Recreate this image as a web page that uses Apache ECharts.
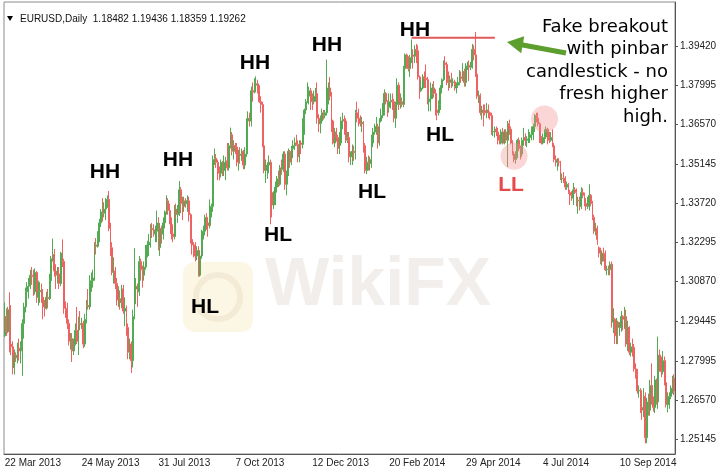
<!DOCTYPE html>
<html>
<head>
<meta charset="utf-8">
<script src="https://cdn.jsdelivr.net/npm/echarts@6/dist/echarts.min.js"></script>
<style>
html,body{margin:0;padding:0;background:#fff;}
#chart{width:722px;height:474px;}
</style>
</head>
<body>
<div id="chart"></div>
<script>
// ---- DATA ----
const symbolTitle = 'EURUSD,Daily';
const lastQuote = ['1.18482', '1.19436', '1.18359', '1.19262'];
const dateLabels = ['22 Mar 2013','24 May 2013','31 Jul 2013','7 Oct 2013','12 Dec 2013','20 Feb 2014','29 Apr 2014','4 Jul 2014','10 Sep 2014'];
const labelEvery = 48;
const yTicks = [1.25145,1.26570,1.27995,1.29445,1.30870,1.32295,1.33720,1.35145,1.36570,1.37995,1.39420];
// daily bars: [open, close, low, high]
const bars2013a = [
[1.2890,1.2960,1.2885,1.3011],[1.2960,1.2905,1.2890,1.2990],[1.2905,1.2985,1.2900,1.2995],[1.3000,1.2860,1.2830,1.3048],
[1.2860,1.2850,1.2820,1.2900],[1.2850,1.2775,1.2750,1.2870],[1.2775,1.2820,1.2750,1.2840],[1.2820,1.2810,1.2795,1.2830],
[1.2810,1.2845,1.2790,1.2865],[1.2845,1.2835,1.2800,1.2880],[1.2835,1.2850,1.2790,1.2870],[1.2850,1.2935,1.2745,1.2950],
[1.2935,1.2995,1.2880,1.3010],[1.2995,1.3050,1.2975,1.3065],[1.3050,1.3070,1.3020,1.3085],[1.3070,1.3075,1.3025,1.3100],
[1.3075,1.3110,1.3060,1.3130],[1.3110,1.3105,1.3075,1.3140],[1.3105,1.3050,1.3035,1.3130],[1.3050,1.3120,1.3040,1.3135],
[1.3120,1.3030,1.3010,1.3125],[1.3030,1.3050,1.3000,1.3090],[1.3050,1.3055,1.3010,1.3085],[1.3055,1.3030,1.3010,1.3080],
[1.3030,1.2995,1.2950,1.3060],[1.2995,1.2990,1.2960,1.3020],[1.2990,1.3030,1.2985,1.3050],[1.3030,1.3025,1.2990,1.3060],
[1.3025,1.3090,1.3020,1.3115],[1.3090,1.3170,1.3075,1.3180],[1.3170,1.3185,1.3160,1.3243],[1.3185,1.3125,1.3105,1.3205],
[1.3125,1.3110,1.3060,1.3150],[1.3110,1.3115,1.3080,1.3140],[1.3115,1.3080,1.3060,1.3140],[1.3080,1.3190,1.3070,1.3195],
[1.3190,1.3160,1.3140,1.3240],[1.3160,1.2990,1.2970,1.3170],[1.2990,1.2985,1.2955,1.3015],[1.2985,1.2935,1.2915,1.3010],
[1.2935,1.2870,1.2855,1.2950],[1.2870,1.2880,1.2840,1.2900],[1.2880,1.2835,1.2795,1.2900],[1.2835,1.2860,1.2820,1.2880],
[1.2860,1.2910,1.2855,1.2935],[1.2910,1.2870,1.2860,1.2995],[1.2870,1.2935,1.2820,1.2960],[1.2935,1.2930,1.2910,1.2980],
[1.2930,1.2935,1.2915,1.2955],[1.2935,1.2860,1.2845,1.2945],[1.2860,1.2950,1.2850,1.2970],[1.2950,1.3000,1.2935,1.3020],
[1.3000,1.2995,1.2985,1.3060],[1.2995,1.3080,1.2985,1.3110],[1.3080,1.3090,1.3050,1.3120],[1.3090,1.3100,1.3065,1.3130],
[1.3100,1.3220,1.3090,1.3230],[1.3220,1.3215,1.3185,1.3245],[1.3215,1.3260,1.3210,1.3270],[1.3260,1.3300,1.3230,1.3315],
[1.3300,1.3340,1.3285,1.3350],[1.3340,1.3335,1.3305,1.3390],[1.3335,1.3350,1.3320,1.3375],[1.3350,1.3370,1.3310,1.3390],
[1.3370,1.3385,1.3355,1.3400],[1.3385,1.3280,1.3270,1.3416],[1.3280,1.3210,1.3180,1.3300],[1.3210,1.3120,1.3110,1.3230],
[1.3120,1.3125,1.3080,1.3175],[1.3125,1.3080,1.3060,1.3140],[1.3080,1.3020,1.3000,1.3100],[1.3020,1.3025,1.2995,1.3070],
[1.3025,1.3010,1.2985,1.3055],[1.3010,1.3060,1.2990,1.3075],[1.3060,1.2980,1.2970,1.3075],[1.2980,1.2990,1.2925,1.3030],
[1.2990,1.2920,1.2890,1.3000],[1.2920,1.2830,1.2805,1.2935],[1.2830,1.2860,1.2805,1.2880],[1.2860,1.2800,1.2755,1.2870],
[1.2800,1.2960,1.2775,1.2985],[1.2960,1.3060,1.2950,1.3208],[1.3060,1.3070,1.3005,1.3100],[1.3070,1.3050,1.2995,1.3080],
[1.3050,1.3160,1.3035,1.3180],[1.3160,1.3130,1.3090,1.3170],[1.3130,1.3110,1.3065,1.3145],[1.3110,1.3140,1.3090,1.3160],
[1.3140,1.3200,1.3130,1.3220],[1.3200,1.3220,1.3175,1.3235],[1.3220,1.3230,1.3180,1.3260],[1.3230,1.3280,1.3210,1.3295],
[1.3280,1.3275,1.3245,1.3300],[1.3275,1.3260,1.3250,1.3295],[1.3260,1.3270,1.3230,1.3290],[1.3270,1.3300,1.3230,1.3345],
[1.3300,1.3210,1.3200,1.3320],[1.3210,1.3280,1.3180,1.3300],[1.3280,1.3260,1.3225,1.3290],[1.3260,1.3300,1.3240,1.3320],
[1.3300,1.3340,1.3280,1.3345],[1.3340,1.3380,1.3330,1.3400],[1.3380,1.3345,1.3330,1.3390],[1.3345,1.3310,1.3295,1.3370],
[1.3310,1.3260,1.3240,1.3320],[1.3260,1.3250,1.3230,1.3295],[1.3250,1.3350,1.3240,1.3365],[1.3350,1.3330,1.3315,1.3370],
[1.3330,1.3335,1.3300,1.3365],[1.3335,1.3420,1.3325,1.3452],[1.3420,1.3370,1.3335,1.3430],[1.3370,1.3360,1.3310,1.3395],
[1.3360,1.3380,1.3340,1.3395],[1.3380,1.3370,1.3355,1.3390],[1.3370,1.3380,1.3340,1.3400],[1.3380,1.3330,1.3305,1.3395],
[1.3330,1.3240,1.3225,1.3335],[1.3240,1.3220,1.3185,1.3260],[1.3220,1.3190,1.3175,1.3230],[1.3190,1.3180,1.3160,1.3230],
[1.3180,1.3200,1.3165,1.3215],[1.3200,1.3110,1.3105,1.3215],[1.3110,1.3180,1.3105,1.3200],[1.3180,1.3260,1.3170,1.3275],
[1.3260,1.3270,1.3240,1.3290],[1.3270,1.3320,1.3255,1.3330],[1.3320,1.3300,1.3275,1.3335],[1.3300,1.3290,1.3250,1.3310],
[1.3290,1.3340,1.3280,1.3385],[1.3340,1.3360,1.3320,1.3370],[1.3360,1.3530,1.3340,1.3545],[1.3530,1.3535,1.3510,1.3570],
[1.3535,1.3520,1.3500,1.3550],[1.3520,1.3490,1.3455,1.3530],[1.3490,1.3480,1.3455,1.3505],[1.3480,1.3520,1.3465,1.3530],
[1.3520,1.3490,1.3470,1.3525],[1.3490,1.3520,1.3470,1.3545],[1.3520,1.3525,1.3455,1.3540],[1.3525,1.3500,1.3490,1.3590],
[1.3500,1.3580,1.3490,1.3590],[1.3580,1.3620,1.3570,1.3646],[1.3620,1.3560,1.3545,1.3630],[1.3560,1.3580,1.3530,1.3600],
[1.3580,1.3575,1.3550,1.3590],[1.3575,1.3520,1.3505,1.3590],[1.3520,1.3550,1.3490,1.3565],[1.3550,1.3545,1.3515,1.3575],
[1.3545,1.3560,1.3525,1.3570],[1.3560,1.3510,1.3495,1.3565],[1.3510,1.3550,1.3495,1.3575],[1.3550,1.3670,1.3540,1.3680],
[1.3670,1.3680,1.3650,1.3705],[1.3680,1.3670,1.3650,1.3700],[1.3670,1.3780,1.3650,1.3795],[1.3780,1.3775,1.3740,1.3810],
[1.3775,1.3800,1.3770,1.3825],[1.3800,1.3805,1.3775,1.3832],[1.3805,1.3780,1.3770,1.3820],[1.3780,1.3740,1.3735,1.3800],
[1.3740,1.3730,1.3700,1.3760],[1.3730,1.3580,1.3575,1.3740],[1.3580,1.3490,1.3480,1.3590],[1.3490,1.3500,1.3445,1.3530],
[1.3500,1.3510,1.3460,1.3520],[1.3510,1.3520,1.3480,1.3545],[1.3520,1.3410,1.3295,1.3530],[1.3410,1.3365,1.3320,1.3435],
[1.3365,1.3380,1.3350,1.3415],[1.3380,1.3430,1.3365,1.3450],[1.3430,1.3460,1.3410,1.3470],[1.3460,1.3440,1.3430,1.3490],
[1.3440,1.3500,1.3435,1.3510],[1.3500,1.3495,1.3475,1.3530],[1.3495,1.3550,1.3485,1.3560],[1.3550,1.3440,1.3420,1.3560],
[1.3440,1.3480,1.3400,1.3490],[1.3480,1.3560,1.3470,1.3570],[1.3560,1.3520,1.3500,1.3565],[1.3520,1.3570,1.3510,1.3580],
[1.3570,1.3580,1.3535,1.3600],[1.3580,1.3590,1.3565,1.3610],[1.3590,1.3585,1.3580,1.3620],[1.3585,1.3540,1.3520,1.3600],
[1.3540,1.3590,1.3520,1.3600],[1.3590,1.3585,1.3550,1.3600],[1.3585,1.3660,1.3570,1.3680],[1.3660,1.3710,1.3620,1.3715],
[1.3710,1.3740,1.3695,1.3750],[1.3740,1.3760,1.3735,1.3810],[1.3760,1.3780,1.3730,1.3795],[1.3780,1.3760,1.3710,1.3790],
[1.3760,1.3740,1.3710,1.3770],[1.3740,1.3760,1.3730,1.3780],[1.3760,1.3770,1.3740,1.3790],[1.3770,1.3680,1.3660,1.3810],
[1.3680,1.3660,1.3630,1.3695],[1.3660,1.3670,1.3625,1.3690],[1.3670,1.3700,1.3660,1.3715],[1.3700,1.3690,1.3675,1.3710],
[1.3690,1.3700,1.3680,1.3710],[1.3700,1.3750,1.3690,1.3893],[1.3750,1.3790,1.3730,1.3810],[1.3790,1.3760,1.3745,1.3830]
];
const bars2014 = [
[1.3760,1.3670,1.3630,1.3775],[1.3670,1.3590,1.3585,1.3675],[1.3590,1.3630,1.3575,1.3645],[1.3630,1.3610,1.3595,1.3645],
[1.3610,1.3570,1.3550,1.3620],[1.3570,1.3590,1.3550,1.3630],[1.3590,1.3670,1.3580,1.3685],[1.3670,1.3675,1.3640,1.3700],
[1.3675,1.3670,1.3620,1.3690],[1.3670,1.3600,1.3590,1.3680],[1.3600,1.3610,1.3590,1.3630],[1.3610,1.3540,1.3520,1.3630],
[1.3540,1.3550,1.3510,1.3560],[1.3550,1.3560,1.3510,1.3585],[1.3560,1.3555,1.3525,1.3580],[1.3555,1.3700,1.3530,1.3710],
[1.3700,1.3680,1.3665,1.3740],[1.3680,1.3670,1.3650,1.3715],[1.3670,1.3660,1.3650,1.3690],[1.3660,1.3665,1.3630,1.3685],
[1.3665,1.3580,1.3555,1.3670],[1.3580,1.3490,1.3480,1.3590],[1.3490,1.3520,1.3477,1.3540],[1.3520,1.3515,1.3490,1.3545],
[1.3515,1.3530,1.3490,1.3540],[1.3530,1.3590,1.3500,1.3620],[1.3590,1.3630,1.3575,1.3645],[1.3630,1.3640,1.3620,1.3660],
[1.3640,1.3650,1.3620,1.3685],[1.3650,1.3590,1.3570,1.3660],[1.3590,1.3670,1.3580,1.3680],[1.3670,1.3690,1.3665,1.3715],
[1.3690,1.3700,1.3680,1.3735],[1.3700,1.3770,1.3690,1.3785],[1.3770,1.3740,1.3730,1.3775],[1.3740,1.3720,1.3685,1.3745],
[1.3720,1.3740,1.3700,1.3770],[1.3740,1.3745,1.3715,1.3770],[1.3745,1.3740,1.3710,1.3770],[1.3740,1.3680,1.3665,1.3750],
[1.3680,1.3730,1.3645,1.3740],[1.3730,1.3800,1.3710,1.3825],[1.3800,1.3730,1.3710,1.3810],[1.3730,1.3740,1.3715,1.3770],
[1.3740,1.3730,1.3720,1.3755],[1.3730,1.3860,1.3720,1.3870],[1.3860,1.3910,1.3850,1.3915],[1.3910,1.3880,1.3860,1.3915],
[1.3880,1.3860,1.3850,1.3905],[1.3860,1.3900,1.3830,1.3910],[1.3900,1.3910,1.3880,1.3966],[1.3910,1.3905,1.3860,1.3930],
[1.3905,1.3930,1.3880,1.3945],[1.3930,1.3925,1.3880,1.3950],[1.3925,1.3830,1.3820,1.3945],[1.3830,1.3780,1.3750,1.3835],
[1.3780,1.3790,1.3775,1.3815],[1.3790,1.3830,1.3785,1.3840],[1.3830,1.3825,1.3790,1.3850],[1.3825,1.3820,1.3790,1.3875],
[1.3820,1.3740,1.3730,1.3830],[1.3740,1.3750,1.3705,1.3765],[1.3750,1.3770,1.3705,1.3810],[1.3770,1.3790,1.3750,1.3805],
[1.3790,1.3770,1.3755,1.3815],[1.3770,1.3710,1.3690,1.3785],[1.3710,1.3700,1.3673,1.3735],[1.3700,1.3730,1.3690,1.3745],
[1.3730,1.3790,1.3710,1.3800],[1.3790,1.3820,1.3770,1.3825],[1.3820,1.3880,1.3815,1.3890],[1.3880,1.3875,1.3855,1.3905],
[1.3875,1.3820,1.3800,1.3885],[1.3820,1.3810,1.3780,1.3850],[1.3810,1.3820,1.3790,1.3835],[1.3820,1.3810,1.3790,1.3845],
[1.3810,1.3812,1.3795,1.3825],[1.3812,1.3790,1.3780,1.3820],[1.3790,1.3800,1.3770,1.3810],[1.3800,1.3810,1.3790,1.3830],
[1.3810,1.3830,1.3800,1.3855],[1.3830,1.3825,1.3810,1.3850],[1.3825,1.3850,1.3815,1.3880],[1.3850,1.3810,1.3795,1.3860],
[1.3810,1.3870,1.3795,1.3880],[1.3870,1.3872,1.3855,1.3885],[1.3872,1.3865,1.3815,1.3890],[1.3865,1.3870,1.3855,1.3885],
[1.3870,1.3930,1.3860,1.3950],[1.3930,1.3910,1.3890,1.3945],[1.3910,1.3840,1.3830,1.3993],[1.3840,1.3760,1.3750,1.3845],
[1.3760,1.3762,1.3735,1.3780],[1.3762,1.3700,1.3690,1.3770],[1.3700,1.3710,1.3675,1.3725],[1.3710,1.3708,1.3650,1.3730],
[1.3708,1.3700,1.3690,1.3730],[1.3700,1.3710,1.3680,1.3735],[1.3710,1.3700,1.3680,1.3730],[1.3700,1.3690,1.3675,1.3705],
[1.3690,1.3630,1.3620,1.3700],[1.3630,1.3632,1.3615,1.3650],[1.3632,1.3640,1.3610,1.3650],[1.3640,1.3630,1.3615,1.3650],
[1.3630,1.3600,1.3585,1.3645],[1.3600,1.3590,1.3585,1.3620],[1.3590,1.3630,1.3585,1.3640],[1.3630,1.3590,1.3585,1.3645],
[1.3590,1.3630,1.3585,1.3640],[1.3630,1.3600,1.3590,1.3640],[1.3600,1.3660,1.3503,1.3670],[1.3660,1.3640,1.3620,1.3675],
[1.3640,1.3590,1.3585,1.3650],[1.3590,1.3550,1.3545,1.3600],[1.3550,1.3530,1.3520,1.3560],[1.3530,1.3540,1.3515,1.3560],
[1.3540,1.3600,1.3535,1.3605],[1.3600,1.3570,1.3560,1.3610],[1.3570,1.3550,1.3530,1.3580],[1.3550,1.3600,1.3540,1.3610],
[1.3600,1.3610,1.3580,1.3645],[1.3610,1.3600,1.3580,1.3625],[1.3600,1.3605,1.3575,1.3615],[1.3605,1.3610,1.3590,1.3640],
[1.3610,1.3620,1.3590,1.3630],[1.3620,1.3630,1.3600,1.3650],[1.3630,1.3650,1.3600,1.3660],[1.3650,1.3690,1.3630,1.3695],
[1.3690,1.3680,1.3665,1.3700],[1.3680,1.3660,1.3650,1.3700],[1.3660,1.3610,1.3590,1.3665],[1.3610,1.3590,1.3585,1.3615],
[1.3590,1.3610,1.3585,1.3625],[1.3610,1.3612,1.3590,1.3640],[1.3612,1.3640,1.3605,1.3650],[1.3640,1.3610,1.3585,1.3645],
[1.3610,1.3600,1.3590,1.3630],[1.3600,1.3610,1.3595,1.3630],[1.3610,1.3580,1.3575,1.3640],[1.3580,1.3530,1.3520,1.3590],
[1.3530,1.3520,1.3505,1.3545],[1.3520,1.3522,1.3490,1.3535],[1.3522,1.3520,1.3505,1.3535],[1.3520,1.3460,1.3455,1.3525],
[1.3460,1.3462,1.3445,1.3480],[1.3462,1.3460,1.3445,1.3485],[1.3460,1.3430,1.3420,1.3470],[1.3430,1.3440,1.3420,1.3450],
[1.3440,1.3410,1.3405,1.3445],[1.3410,1.3400,1.3365,1.3420],[1.3400,1.3390,1.3380,1.3415],[1.3390,1.3420,1.3365,1.3445],
[1.3420,1.3410,1.3405,1.3430],[1.3410,1.3380,1.3360,1.3425],[1.3380,1.3382,1.3333,1.3395],[1.3382,1.3360,1.3345,1.3395],
[1.3360,1.3410,1.3350,1.3430],[1.3410,1.3400,1.3390,1.3425],[1.3400,1.3370,1.3360,1.3410],[1.3370,1.3360,1.3345,1.3390],
[1.3360,1.3362,1.3350,1.3395],[1.3362,1.3400,1.3345,1.3440],[1.3400,1.3370,1.3360,1.3405],[1.3370,1.3320,1.3310,1.3380],
[1.3320,1.3270,1.3260,1.3330],[1.3270,1.3280,1.3255,1.3300],[1.3280,1.3240,1.3220,1.3290],[1.3210,1.3190,1.3175,1.3215],
[1.3190,1.3160,1.3150,1.3210],[1.3160,1.3190,1.3145,1.3200],[1.3190,1.3185,1.3160,1.3210],[1.3185,1.3130,1.3125,1.3200],
[1.3130,1.3132,1.3110,1.3145],[1.3132,1.3130,1.3110,1.3145],[1.3130,1.3150,1.3110,1.3160],[1.3150,1.2940,1.2920,1.3160],
[1.2940,1.2950,1.2900,1.2990],[1.2950,1.2890,1.2860,1.2955],[1.2890,1.2940,1.2860,1.2955],[1.2940,1.2920,1.2860,1.2945],
[1.2920,1.2922,1.2890,1.2940],[1.2922,1.2960,1.2905,1.2980],[1.2960,1.2950,1.2910,1.2965],[1.2950,1.2960,1.2915,1.2995],
[1.2960,1.2860,1.2850,1.2985],[1.2860,1.2920,1.2835,1.2945],[1.2920,1.2830,1.2820,1.2925],[1.2830,1.2850,1.2815,1.2865],
[1.2850,1.2848,1.2815,1.2880],[1.2848,1.2770,1.2760,1.2860],[1.2770,1.2750,1.2735,1.2790],[1.2750,1.2690,1.2680,1.2770],
[1.2690,1.2692,1.2665,1.2710],[1.2692,1.2630,1.2610,1.2700],[1.2630,1.2620,1.2585,1.2650],[1.2620,1.2670,1.2595,1.2700],
[1.2670,1.2520,1.2500,1.2685],[1.2520,1.2650,1.2500,1.2665],[1.2650,1.2620,1.2600,1.2680],[1.2620,1.2710,1.2600,1.2730],
[1.2710,1.2650,1.2640,1.2790],[1.2650,1.2630,1.2615,1.2670],[1.2630,1.2730,1.2610,1.2745],[1.2730,1.2650,1.2640,1.2735],
[1.2650,1.2820,1.2625,1.2887],[1.2820,1.2810,1.2760,1.2840],[1.2810,1.2760,1.2740,1.2815],[1.2760,1.2800,1.2750,1.2835],
[1.2800,1.2720,1.2710,1.2815],[1.2720,1.2640,1.2630,1.2735],[1.2640,1.2650,1.2612,1.2685],[1.2650,1.2670,1.2625,1.2685],
[1.2670,1.2700,1.2660,1.2710],[1.2700,1.2735,1.2680,1.2745],[1.2735,1.2690,1.2675,1.2750]
];
const bars = bars2013a.concat(bars2014);
// annotations (data space)
const hhLine = {from: 254, to: 306, level: 1.3972};
const circles = [[318, 1.3542], [337, 1.3677]];
const noteLines = ['Fake breakout', 'with pinbar', 'candlestick - no', 'fresh higher', 'high.'];

// ---- CHART ----
const chart = echarts.init(document.getElementById('chart'), null, {renderer: 'canvas'});
const cats = bars.map((_, i) => i);
const green = '#52ab52', red = '#ee6262';
const labelFont = 'Liberation Sans';

const swingLabels = [
  {t: 'HH', x: 105, y: 172}, {t: 'HH', x: 178, y: 160}, {t: 'HH', x: 255, y: 63},
  {t: 'HH', x: 327, y: 45}, {t: 'HH', x: 415, y: 30},
  {t: 'HL', x: 205, y: 307}, {t: 'HL', x: 278, y: 235}, {t: 'HL', x: 372, y: 192}, {t: 'HL', x: 440, y: 135}
];
const graphics = [];
// watermark
graphics.push({type: 'rect', z: 0, silent: true, shape: {x: 183, y: 262, width: 70, height: 70, r: 12}, style: {fill: '#fcf6e4'}});
graphics.push({type: 'circle', z: 0, silent: true, shape: {cx: 218, cy: 297, r: 22}, style: {fill: 'none', stroke: '#f3ebd6', lineWidth: 6}});
graphics.push({type: 'text', z: 0, silent: true, x: 378, y: 286, style: {text: 'WikiFX', fill: '#f1eeeb', font: 'bold 68px "Liberation Sans"', align: 'center', verticalAlign: 'middle'}});
// header
graphics.push({type: 'polygon', z: 50, shape: {points: [[7,16],[13,16],[10,21]]}, style: {fill: '#000'}});
graphics.push({type: 'text', z: 50, x: 20, y: 19, style: {text: symbolTitle + '  ' + lastQuote.join(' '), fill: '#111', font: '10px "Liberation Sans"', verticalAlign: 'middle'}});
swingLabels.forEach(l => graphics.push({type: 'text', z: 60, x: l.x, y: l.y, style: {text: l.t, fill: '#000', font: 'bold 21px "Liberation Sans"', align: 'center', verticalAlign: 'middle'}}));
graphics.push({type: 'text', z: 60, x: 511, y: 185, style: {text: 'LL', fill: '#e64a4a', font: 'bold 21px "Liberation Sans"', align: 'center', verticalAlign: 'middle'}});
noteLines.forEach((t, k) => graphics.push({type: 'text', z: 60, x: 668, y: 27 + k * 22.5, style: {text: t, fill: '#000', font: '18px "DejaVu Sans"', align: 'right', verticalAlign: 'middle'}}));
// arrow
graphics.push({type: 'polygon', z: 60, shape: {points: [[507,42],[524.2,36.2],[523.2,42.4],[566.5,50.5],[565.5,55.5],[522.2,47.4],[521.2,53.3]]}, style: {fill: '#5c9f2f'}});

chart.setOption({
  animation: false,
  backgroundColor: '#fff',
  grid: {left: 4, right: 47, top: 2, bottom: 20, show: true, borderColor: '#8a8a8a', borderWidth: 1},
  xAxis: {
    type: 'category', data: cats, boundaryGap: true,
    axisLine: {lineStyle: {color: '#555'}},
    axisTick: {alignWithLabel: true, length: 3, interval: (i) => i % labelEvery === 0, lineStyle: {color: '#555'}},
    axisLabel: {interval: (i) => i % labelEvery === 0, formatter: (v, i) => dateLabels[Math.round(i / labelEvery)] || '',
      align: 'left', margin: 4, fontSize: 10, color: '#222', fontFamily: labelFont},
    splitLine: {show: false}
  },
  yAxis: {
    type: 'value', position: 'right', min: 1.2461, max: 1.4102, scale: true,
    splitLine: {show: false},
    axisLine: {show: true, lineStyle: {color: '#555'}},
    axisTick: {show: true, length: 3, customValues: yTicks, lineStyle: {color: '#555'}},
    axisLabel: {customValues: yTicks, formatter: (v) => v.toFixed(5), fontSize: 10, color: '#222', margin: 5, fontFamily: labelFont}
  },
  graphic: {elements: graphics},
  series: [
    {type: 'candlestick', data: bars, barWidth: 1.4, z: 3,
     itemStyle: {color: green, color0: red, borderColor: green, borderColor0: red, borderWidth: 1}},
    {type: 'line', z: 4, symbol: 'none', data: [[hhLine.from, hhLine.level], [hhLine.to, hhLine.level]],
     lineStyle: {color: '#e05a5a', width: 2}},
    {type: 'scatter', z: 5, symbolSize: 27, data: circles, itemStyle: {color: 'rgba(243,140,140,0.45)'}}
  ]
});
</script>
</body>
</html>
